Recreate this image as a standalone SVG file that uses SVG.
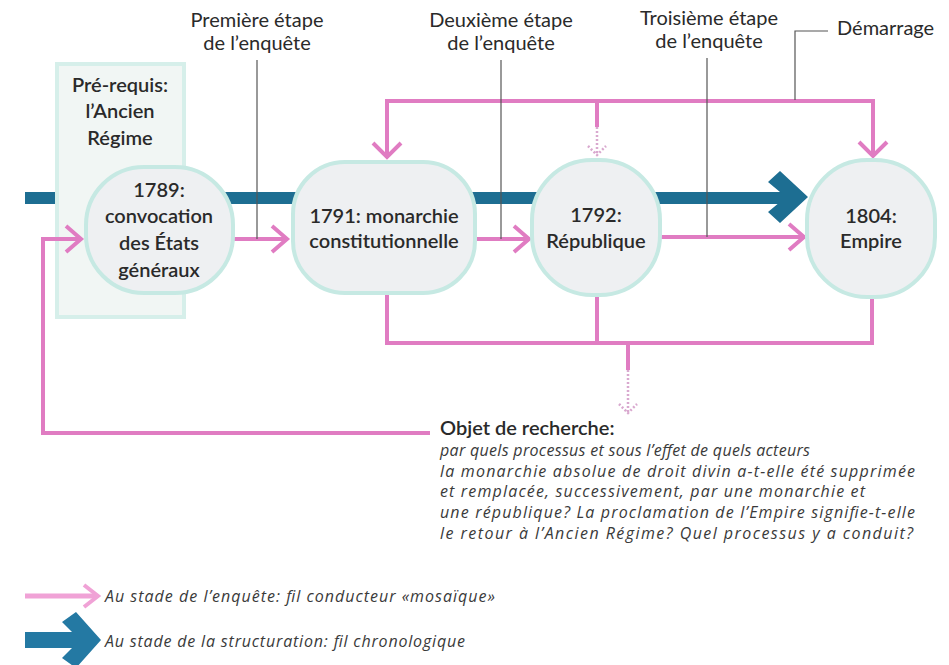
<svg xmlns="http://www.w3.org/2000/svg" width="949" height="665" viewBox="0 0 949 665">
<style>
.lbl{font-family:Lato,"Liberation Sans",sans-serif;font-size:20px;fill:#2a2a2a;text-anchor:middle}
.nt{font-family:Lato,"Liberation Sans",sans-serif;font-size:20px;font-weight:600;fill:#2a2a2a;text-anchor:middle}
.it{font-family:"Open Sans","Liberation Sans",sans-serif;font-style:italic;font-size:16px;fill:#3a3a3a}
.hd{font-family:Lato,"Liberation Sans",sans-serif;font-size:20px;font-weight:600;fill:#2a2a2a}
.node{fill:#eef0f2;stroke:#c6e9e3;stroke-width:4}
.pk{fill:none;stroke:#e07cc2;stroke-width:4}
.ghost{fill:none;stroke:#d9a9cf;stroke-width:2.5;stroke-dasharray:2 2}
.ld{fill:none;stroke:#555;stroke-width:1.2}
.blue{fill:#1d6e92}
</style>
<g id="chrono">
<rect class="blue" x="25" y="192" width="765" height="12"/>
<polygon class="blue" points="768,182 780,171 808,197 780,223 768,212 786,197"/>
</g>
<g id="prerequis">
<rect x="57" y="64" width="127" height="253" fill="#f1f6f4" stroke="#d6efea" stroke-width="4"/>
<text class="nt" x="120" y="92">Pré-requis:</text>
<text class="nt" x="120" y="118">l’Ancien</text>
<text class="nt" x="120" y="145">Régime</text>
</g>
<g id="connectors">
<path class="pk" d="M430,433 H43 V239 H80"/>
<path class="pk" d="M66,226 L81,239 L66,252"/>
<path class="pk" d="M233,239 H286"/>
<path class="pk" d="M272,226 L287,239 L272,252"/>
<path class="pk" d="M475,239 H528"/>
<path class="pk" d="M514,226 L529,239 L514,252"/>
<path class="pk" d="M660,237 H803"/>
<path class="pk" d="M789,224 L804,237 L789,250"/>
<path class="pk" d="M387,158 V101 H873 V156"/>
<path class="pk" d="M373,143 L387,157 L401,143"/>
<path class="pk" d="M859,142 L873,156 L887,142"/>
<path class="pk" d="M597,101 V127"/>
<path class="ghost" d="M597,127 V155 M588,146 L597,155 L606,146"/>
<path class="pk" d="M387,293 V343 H872 V297"/>
<path class="pk" d="M597,295 V343"/>
<path class="pk" d="M628,343 V370" stroke="#d49ac6"/>
<path class="ghost" d="M628,370 V413 M619,404 L628,413 L637,404"/>
<path class="ld" d="M257,60 V239"/>
<path class="ld" d="M501,60 V239"/>
<path class="ld" d="M707,58 V237"/>
<path class="ld" d="M828,31 H795 V100"/>
</g>
<g id="n1789">
<rect class="node" x="86" y="167" width="147" height="126" rx="58"/>
<text class="nt" x="159" y="197">1789:</text>
<text class="nt" x="159" y="223">convocation</text>
<text class="nt" x="159" y="250">des États</text>
<text class="nt" x="159" y="277">généraux</text>
</g>
<g id="n1791">
<rect class="node" x="293" y="162" width="182" height="131" rx="52"/>
<text class="nt" x="384" y="223">1791: monarchie</text>
<text class="nt" x="384" y="248">constitutionnelle</text>
</g>
<g id="n1792">
<rect class="node" x="532" y="160" width="128" height="135" rx="60"/>
<text class="nt" x="596" y="222">1792:</text>
<text class="nt" x="596" y="248">République</text>
</g>
<g id="n1804">
<rect class="node" x="807" y="160" width="128" height="137" rx="60"/>
<text class="nt" x="871" y="223">1804:</text>
<text class="nt" x="871" y="248">Empire</text>
</g>
<g id="labels">
<text class="lbl" x="257" y="27">Première étape</text>
<text class="lbl" x="257" y="50">de l’enquête</text>
<text class="lbl" x="501" y="27">Deuxième étape</text>
<text class="lbl" x="501" y="50">de l’enquête</text>
<text class="lbl" x="709" y="25">Troisième étape</text>
<text class="lbl" x="709" y="48">de l’enquête</text>
<text class="lbl" x="837" y="35" style="text-anchor:start">Démarrage</text>
</g>
<g id="objet">
<text class="hd" x="440" y="435">Objet de recherche:</text>
<text class="it" x="440" y="456" textLength="370" lengthAdjust="spacing">par quels processus et sous l’effet de quels acteurs</text>
<text class="it" x="440" y="477" textLength="475" lengthAdjust="spacing">la monarchie absolue de droit divin a-t-elle été supprimée</text>
<text class="it" x="440" y="497" textLength="425" lengthAdjust="spacing">et remplacée, successivement, par une monarchie et</text>
<text class="it" x="440" y="518" textLength="475" lengthAdjust="spacing">une république? La proclamation de l’Empire signifie-t-elle</text>
<text class="it" x="440" y="539" textLength="473" lengthAdjust="spacing">le retour à l’Ancien Régime? Quel processus y a conduit?</text>
</g>
<g id="legend">
<path d="M25,596 H96" fill="none" stroke="#f0a2d6" stroke-width="5"/>
<path d="M84,585 L98,596 L84,607" fill="none" stroke="#f0a2d6" stroke-width="4"/>
<text class="it" x="105" y="602" textLength="390" lengthAdjust="spacing">Au stade de l’enquête: fil conducteur «mosaïque»</text>
<rect x="25" y="632" width="58" height="16" fill="#2479a3"/>
<polygon points="62,622 76,612 101,640 76,668 62,658 80,640" fill="#2479a3"/>
<text class="it" x="105" y="647" textLength="360" lengthAdjust="spacing">Au stade de la structuration: fil chronologique</text>
</g>
</svg>
